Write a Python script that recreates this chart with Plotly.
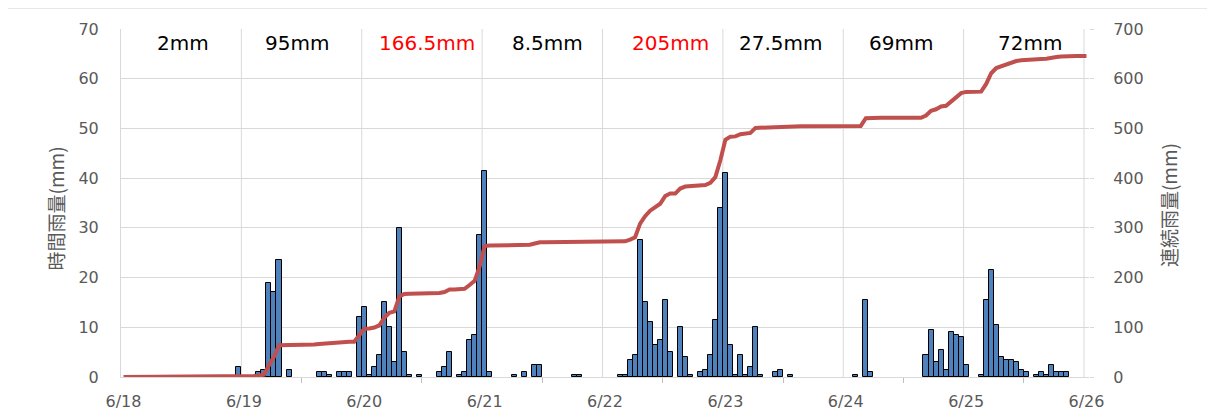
import numpy as np
import plotly.graph_objects as go

# ---------------- data ----------------
# hourly rainfall (mm), 193 hourly points from 6/18 0:00 to 6/26 0:00
hourly_rain = [
    # 6/18
    0, 0, 0, 0, 0, 0, 0, 0, 0, 0, 0, 0, 0, 0, 0, 0, 0, 0, 0, 0, 0, 0, 0, 2,
    # 6/19
    0, 0, 0, 1, 1.5, 19, 17, 23.5, 0, 1.5, 0, 0, 0, 0, 0, 1, 1, 0.5, 0, 1, 1, 1, 0, 12,
    # 6/20
    14, 0.5, 2, 4.5, 15, 10, 3, 30, 5, 0.5, 0, 0.5, 0, 0, 0, 1, 2, 5, 0, 0.5, 1, 7.5, 8.5, 28.5,
    # 6/21
    41.5, 1, 0, 0, 0, 0, 0.5, 0, 1, 0, 2.5, 2.5, 0, 0, 0, 0, 0, 0, 0.5, 0.5, 0, 0, 0, 0,
    # 6/22
    0, 0, 0, 0.5, 0.5, 3.5, 4.5, 27.5, 15, 11, 6.5, 7.5, 15.5, 5, 0, 10, 4, 0.5, 0, 1, 1.5, 4.5, 11.5, 34,
    # 6/23
    41, 6.5, 0.5, 4.5, 0.5, 2, 10, 0.5, 0, 0, 1, 1.5, 0, 0.5, 0, 0, 0, 0, 0, 0, 0, 0, 0, 0,
    # 6/24
    0, 0, 0.5, 0, 15.5, 1, 0, 0, 0, 0, 0, 0, 0, 0, 0, 0, 4.5, 9.5, 3, 5.5, 1.5, 9, 8.5, 8,
    # 6/25
    2.5, 0, 0, 0.5, 15.5, 21.5, 10.5, 4, 3.5, 3.5, 3, 1.5, 1, 0, 0.5, 1, 0.5, 2.5, 1, 1, 1, 0, 0, 0,
    # 6/26 0:00
    0,
]
date_labels = ["6/18", "6/19", "6/20", "6/21", "6/22", "6/23", "6/24", "6/25", "6/26"]
day_totals = ["2mm", "95mm", "166.5mm", "8.5mm", "205mm", "27.5mm", "69mm", "72mm"]
day_total_colors = ["black", "black", "red", "black", "red", "black", "black", "black"]
left_title = "時間雨量(mm)"
right_title = "連続雨量(mm)"

# ---------------- figure ----------------
hours = np.arange(len(hourly_rain))
cumulative = np.cumsum(hourly_rain)
bar_vals = [v if v > 0 else None for v in hourly_rain]

GRID = "#d9d9d9"
TXT = "#595959"

fig = go.Figure()
fig.add_trace(go.Bar(
    x=hours, y=bar_vals,
    marker=dict(color="#4F81BD", line=dict(color="black", width=1)),
    width=1, showlegend=False, hoverinfo="x+y",
))
fig.add_trace(go.Scatter(
    x=hours, y=cumulative, yaxis="y2", mode="lines",
    line=dict(color="#C0504D", width=4), showlegend=False,
))

shapes = []
for k in range(8):
    xv = 23.5 + 24 * k
    shapes.append(dict(type="line", xref="x", yref="paper", x0=xv, x1=xv, y0=0, y1=1,
                       line=dict(color=GRID, width=1), layer="below"))
# outer chart frame
shapes.append(dict(type="rect", xref="paper", yref="paper",
                   x0=-0.1178, x1=1.1285, y0=-0.3, y1=1.06,
                   line=dict(color=GRID, width=1), layer="below"))

ann_x = [11.9, 34.5, 60.6, 84.5, 109.0, 131.1, 155.1, 180.8]
annotations = []
for xv, t, c in zip(ann_x, day_totals, day_total_colors):
    annotations.append(dict(x=xv, y=0.96, xref="x", yref="paper", text=t, showarrow=False,
                            font=dict(family="DejaVu Sans", size=20, color=c),
                            xanchor="center", yanchor="middle"))
annotations.append(dict(x=-0.068, y=0.485, xref="paper", yref="paper", text=left_title,
                        textangle=-90, showarrow=False, xanchor="center", yanchor="middle",
                        font=dict(family="Noto Sans CJK JP", size=19, color=TXT)))
annotations.append(dict(x=1.082, y=0.495, xref="paper", yref="paper", text=right_title,
                        textangle=-90, showarrow=False, xanchor="center", yanchor="middle",
                        font=dict(family="Noto Sans CJK JP", size=19, color=TXT)))

# the page adds an 8px body margin, so the figure is made 8px smaller
fig.update_layout(
    width=1207, height=411,
    margin=dict(l=113, r=126, t=21, b=42, autoexpand=False),
    paper_bgcolor="white", plot_bgcolor="white",
    bargap=0,
    shapes=shapes, annotations=annotations,
    xaxis=dict(
        range=[-0.5, 192.5], tickmode="array", automargin=False,
        tickvals=[24 * k for k in range(len(date_labels))], ticktext=date_labels,
        showgrid=False, zeroline=False, showline=True, linecolor=GRID, linewidth=1,
        ticks="", ticklabelstandoff=10,
        tickfont=dict(family="DejaVu Sans", size=16, color=TXT),
        minor=dict(tickmode="array", tickvals=[35.5 + 24 * k for k in range(7)],
                   ticks="outside", ticklen=5, tickcolor="#bfbfbf", showgrid=False),
    ),
    yaxis=dict(
        range=[0, 70], dtick=10, showgrid=True, gridcolor=GRID, gridwidth=1,
        zeroline=False, showline=True, linecolor=GRID, ticks="", automargin=False,
        ticklabelstandoff=18,
        tickfont=dict(family="DejaVu Sans", size=16, color=TXT),
    ),
    yaxis2=dict(
        range=[0, 700], dtick=100, overlaying="y", side="right", showgrid=False,
        zeroline=False, showline=False, ticks="outside", ticklen=4, tickcolor=GRID,
        ticklabelstandoff=16, automargin=False,
        tickfont=dict(family="DejaVu Sans", size=16, color=TXT),
    ),
)

fig.write_html("out.html")
